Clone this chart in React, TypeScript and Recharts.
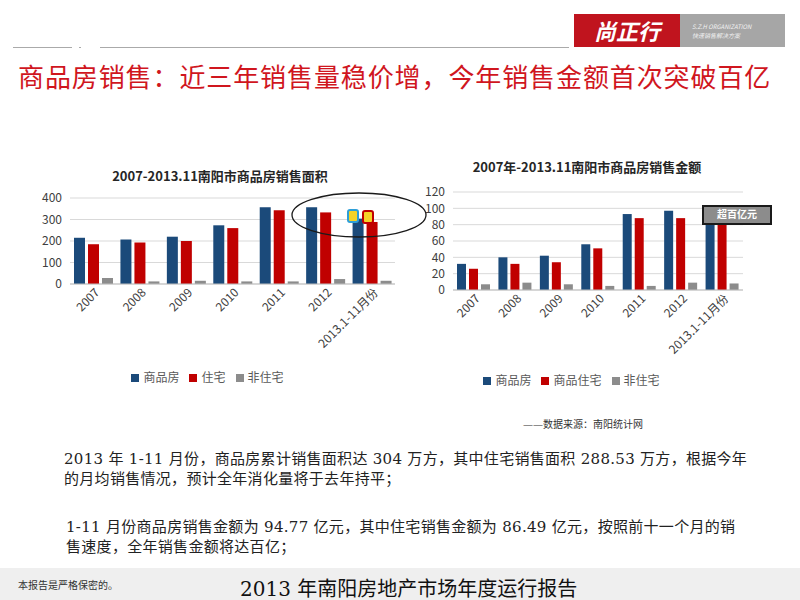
import { BarChart, Bar, XAxis, YAxis, CartesianGrid, Legend } from 'recharts'

const categories = ['2007', '2008', '2009', '2010', '2011', '2012', '2013.1-11月份']
// 销售面积（万方）
const areaTotal = [215, 207, 220, 273, 357, 357, 304]
const areaResidential = [185, 193, 200, 260, 343, 333, 288.53]
const areaNonResidential = [28, 12, 15, 12, 12, 23, 15]
const areaTicks = [0, 100, 200, 300, 400]
// 销售金额（亿元）
const amountTotal = [32, 40, 42, 56, 93, 97, 94.77]
const amountResidential = [26, 32, 34, 51, 88, 88, 86.49]
const amountNonResidential = [7, 9, 7, 5, 5, 9, 8]
const amountTicks = [0, 20, 40, 60, 80, 100, 120]

const areaData = categories.map((name, i) => ({
  name,
  total: areaTotal[i],
  residential: areaResidential[i],
  nonResidential: areaNonResidential[i],
}))
const amountData = categories.map((name, i) => ({
  name,
  total: amountTotal[i],
  residential: amountResidential[i],
  nonResidential: amountNonResidential[i],
}))

const seriesOrder = ['total', 'residential', 'nonResidential']

const BLUE = '#1b4a7a'
const RED = '#c00000'
const GRAY = '#8c8c8c'
const FONT = '"Noto Sans CJK SC", "Noto Sans", sans-serif'
const SERIF = '"DejaVu Serif", "Noto Sans CJK SC", serif'

function AngledTick({ x, y, payload }: any) {
  return (
    <g transform={`translate(${x},${y})`}>
      <text x={4} y={6} textAnchor="end" fill="#404040" fontSize={12} fontFamily={FONT} transform="rotate(-45)">
        {payload.value}
      </text>
    </g>
  )
}

function SalesChart({ data, ticks, max, yWidth, margin, xHeight, names }: any) {
  return (
    <BarChart width={380} height={250} data={data} margin={margin} barGap={3} barCategoryGap={4}>
      <CartesianGrid vertical={false} stroke="#d9d9d9" />
      <XAxis
        dataKey="name"
        interval={0}
        height={xHeight}
        tick={<AngledTick />}
        tickLine={false}
        axisLine={{ stroke: '#bfbfbf' }}
      />
      <YAxis
        domain={[0, max]}
        ticks={ticks}
        interval={0}
        width={yWidth}
        axisLine={false}
        tickLine={false}
        tick={{ fill: '#404040', fontSize: 12, fontFamily: FONT }}
      />
      <Legend
        verticalAlign="bottom"
        iconType="square"
        iconSize={8}
        itemSorter={(item: any) => seriesOrder.indexOf(item.dataKey)}
        formatter={(v: string) => <span style={{ color: '#595959', fontSize: 12, fontFamily: FONT }}>{v}</span>}
      />
      <Bar dataKey="total" name={names[0]} fill={BLUE} isAnimationActive={false} />
      <Bar dataKey="residential" name={names[1]} fill={RED} isAnimationActive={false} />
      <Bar dataKey="nonResidential" name={names[2]} fill={GRAY} isAnimationActive={false} />
    </BarChart>
  )
}

export default function App() {
  const abs = (l: number, t: number, extra: any = {}) => ({ position: 'absolute' as const, left: l, top: t, ...extra })
  const para = { fontFamily: SERIF, fontSize: 15, lineHeight: '20px', color: '#222', letterSpacing: 0.3, whiteSpace: 'nowrap' as const }
  return (
    <div style={{ position: 'fixed', left: 0, top: 0, width: 800, height: 600, background: '#fff', overflow: 'hidden' }}>
      {/* header logo */}
      <div style={abs(574, 14, { width: 106, height: 33, background: '#c0141e', color: '#fff', fontFamily: FONT, fontWeight: 700, fontSize: 22, fontStyle: 'italic', lineHeight: '33px', textAlign: 'center' })}>
        尚正行
      </div>
      <div style={abs(680, 14, { width: 105, height: 33, background: '#a6a6a6', color: '#f2f2f2', fontFamily: FONT, fontSize: 6, fontStyle: 'italic', lineHeight: '9px', paddingLeft: 12, paddingTop: 8, boxSizing: 'border-box' })}>
        <div>S.Z.H ORGANIZATION</div>
        <div>快速销售解决方案</div>
      </div>
      <div style={abs(13, 47, { width: 59, height: 1, background: '#aaa' })} />
      <div style={abs(79, 47, { width: 2, height: 1, background: '#aaa' })} />
      <div style={abs(100, 47, { width: 469, height: 1, background: '#aaa' })} />
      <div style={abs(18, 58, { color: '#d0161e', fontFamily: FONT, fontSize: 26, letterSpacing: 0.9, whiteSpace: 'nowrap', lineHeight: '36px' })}>
        商品房销售：近三年销售量稳价增，今年销售金额首次突破百亿
      </div>

      {/* chart titles */}
      <div style={abs(30, 166, { width: 380, textAlign: 'center', fontFamily: FONT, fontWeight: 700, fontSize: 13, color: '#262626' })}>
        2007-2013.11南阳市商品房销售面积
      </div>
      <div style={abs(397, 157, { width: 380, textAlign: 'center', fontFamily: FONT, fontWeight: 700, fontSize: 13, color: '#262626' })}>
        2007年-2013.11南阳市商品房销售金额
      </div>

      <div style={abs(30, 150)}>
        <SalesChart
          data={areaData}
          ticks={areaTicks}
          max={400}
          yWidth={40}
          margin={{ top: 48, right: 15, left: 0, bottom: 14 }}
          xHeight={84}
          names={['商品房', '住宅', '非住宅']}
        />
      </div>
      <div style={abs(410, 150)}>
        <SalesChart
          data={amountData}
          ticks={amountTicks}
          max={120}
          yWidth={43}
          margin={{ top: 42, right: 47, left: 0, bottom: 11 }}
          xHeight={81}
          names={['商品房', '商品住宅', '非住宅']}
        />
      </div>

      {/* annotations */}
      <svg width={800} height={600} style={abs(0, 0, { pointerEvents: 'none' })}>
        <ellipse cx={359} cy={215} rx={67} ry={22} fill="none" stroke="#1a1a1a" strokeWidth={1.3} />
        <rect x={348} y={210} width={10} height={12} rx={2} fill="#f5d328" stroke="#2e9fd8" strokeWidth={2} />
        <rect x={363} y={211} width={10} height={12} rx={2} fill="#f5d328" stroke={RED} strokeWidth={2} />
      </svg>
      <div style={abs(702, 205, { width: 70, height: 20, boxSizing: 'border-box', background: '#8c8c8c', border: '2px solid #1a1a1a', color: '#fff', fontFamily: SERIF, fontWeight: 700, fontSize: 10, lineHeight: '16px', textAlign: 'center' })}>
        超百亿元
      </div>

      {/* text */}
      <div style={abs(523, 416, { fontFamily: SERIF, fontSize: 10, color: '#333' })}>——数据来源：南阳统计网</div>
      <div style={abs(64, 449, para)}>
        2013 年 1-11 月份，商品房累计销售面积达 304 万方，其中住宅销售面积 288.53 万方，根据今年
        <br />
        的月均销售情况，预计全年消化量将于去年持平；
      </div>
      <div style={abs(66, 517, para)}>
        1-11 月份商品房销售金额为 94.77 亿元，其中住宅销售金额为 86.49 亿元，按照前十一个月的销
        <br />
        售速度，全年销售金额将达百亿；
      </div>

      {/* footer */}
      <div style={abs(0, 568, { width: 800, height: 32, background: '#efefef' })} />
      <div style={abs(18, 577, { fontFamily: SERIF, fontSize: 10, color: '#333' })}>本报告是严格保密的。</div>
      <div style={abs(240, 573, { fontFamily: SERIF, fontSize: 20, color: '#111', whiteSpace: 'nowrap' })}>2013 年南阳房地产市场年度运行报告</div>
    </div>
  )
}
